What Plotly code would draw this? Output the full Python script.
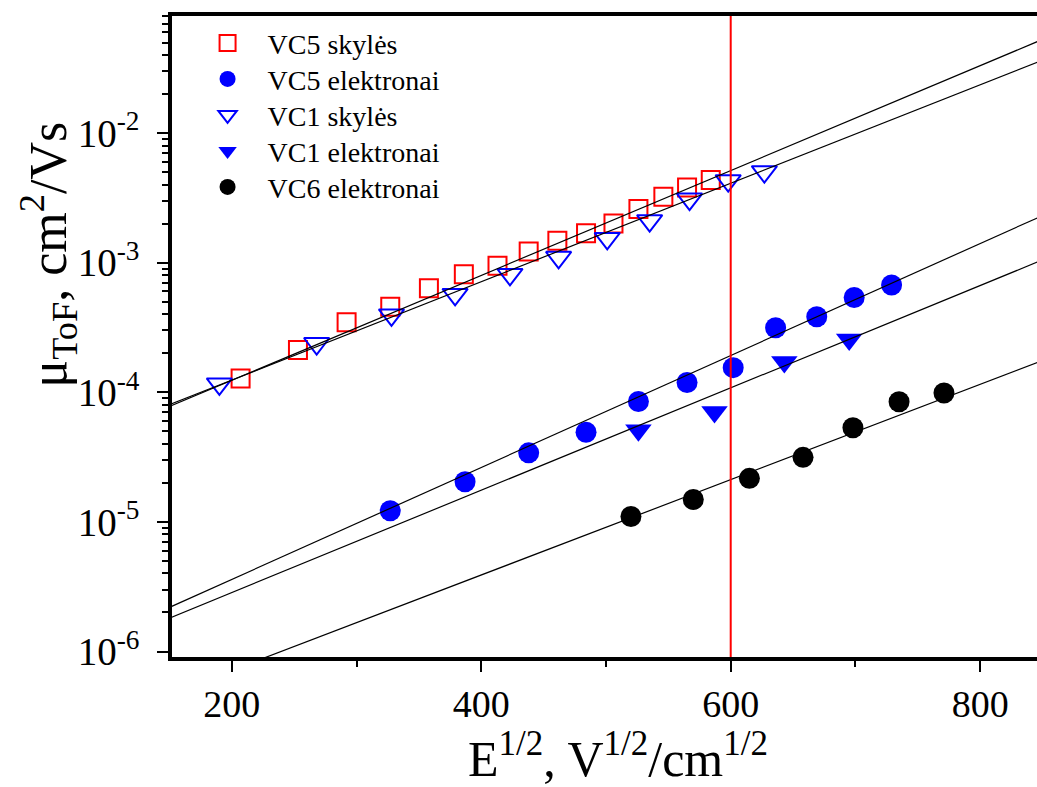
import plotly.graph_objects as go

# ---- data ----
vc5_h_x = [207, 253, 292, 327, 358, 386, 413, 438, 461, 484, 506, 526, 546, 565, 584]
vc5_h_y = [1.28e-4, 2.12e-4, 3.47e-4, 4.57e-4, 6.34e-4, 8.13e-4, 9.48e-4, 1.22e-3,
           1.48e-3, 1.69e-3, 2.01e-3, 2.60e-3, 3.23e-3, 3.80e-3, 4.35e-3]

vc5_e_x = [327, 387, 438, 484, 526, 565, 602, 636, 669, 699, 729]
vc5_e_y = [1.22e-5, 2.04e-5, 3.41e-5, 4.92e-5, 8.49e-5, 1.19e-4, 1.55e-4,
           3.15e-4, 3.83e-4, 5.39e-4, 6.73e-4]

vc1_h_x = [190, 268, 328, 379, 423, 462, 501, 535, 567, 598, 627]
vc1_h_y = [1.16e-4, 2.38e-4, 3.95e-4, 5.69e-4, 8.12e-4, 1.10e-3, 1.54e-3,
           2.11e-3, 3.10e-3, 4.29e-3, 5.04e-3]

vc1_e_x = [526, 587, 643, 695]
vc1_e_y = [5.09e-5, 7.05e-5, 1.71e-4, 2.55e-4]

vc6_e_x = [520, 570, 615, 658, 698, 735, 771]
vc6_e_y = [1.10e-5, 1.49e-5, 2.17e-5, 3.15e-5, 5.33e-5, 8.46e-5, 9.88e-5]

# fitted straight lines (semilog), end values at x = 150 and x = 850
fit_x = [150, 850]
fit_vc5_h = [7.77e-5, 5.28e-2]
fit_vc1_h = [8.03e-5, 3.65e-2]
fit_vc5_e = [2.19e-6, 2.31e-3]
fit_vc1_e = [1.81e-6, 1.05e-3]
fit_vc6_e = [4.69e-7, 1.76e-4]

marker_x = 600  # vertical red line

y_tickvals = [1e-6, 1e-5, 1e-4, 1e-3, 1e-2]
y_ticktext = ["10<sup>-6</sup>", "10<sup>-5</sup>", "10<sup>-4</sup>",
              "10<sup>-3</sup>", "10<sup>-2</sup>"]
y_minor_tickvals = [m * 10.0 ** e for e in range(-7, -1) for m in range(2, 10)]
x_tickvals = [200, 400, 600, 800]
x_minor_tickvals = [300, 500, 700]

x_title = "E<sup>1/2</sup>, V<sup>1/2</sup>/cm<sup>1/2</sup>"
y_title = "μ<sub>ToF</sub>, cm<sup>2</sup>/Vs"

FONT = "Liberation Serif"
RED = "#FF0000"
BLUE = "#0000FF"

fig = go.Figure()

series = [
    (vc5_h_x, vc5_h_y, "VC5 skylės",
     dict(symbol="square-open", size=18, color=RED, line=dict(width=2, color=RED)), "legend"),
    (vc5_e_x, vc5_e_y, "VC5 elektronai",
     dict(symbol="circle", size=21, color=BLUE, line=dict(width=0)), "legend2"),
    (vc1_h_x, vc1_h_y, "VC1 skylės",
     dict(symbol="triangle-down-open", size=22, color=BLUE, line=dict(width=2, color=BLUE)), "legend3"),
    (vc1_e_x, vc1_e_y, "VC1 elektronai",
     dict(symbol="triangle-down", size=23, color=BLUE, line=dict(width=0)), "legend4"),
    (vc6_e_x, vc6_e_y, "VC6 elektronai",
     dict(symbol="circle", size=21, color="black", line=dict(width=0)), "legend5"),
]
for sx, sy, name, mk, lg in series:
    fig.add_trace(go.Scatter(x=sx, y=sy, mode="markers", name=name, marker=mk, legend=lg))

for fy in [fit_vc5_h, fit_vc1_h, fit_vc5_e, fit_vc1_e, fit_vc6_e]:
    fig.add_trace(go.Scatter(x=fit_x, y=fy, mode="lines", showlegend=False,
                             hoverinfo="skip",
                             line=dict(color="black", width=1.2)))

fig.add_shape(type="line", xref="x", yref="paper", x0=marker_x, x1=marker_x,
              y0=0, y1=1, line=dict(color=RED, width=2), layer="above")

legend_style = dict(x=0.018, xanchor="left", yanchor="top",
                    font=dict(family=FONT, size=28, color="black"),
                    bgcolor="rgba(0,0,0,0)", itemwidth=70)
legend_tops = [0.9966, 0.9404, 0.8842, 0.8281, 0.7719]

fig.update_layout(
    width=1037, height=787,
    margin=dict(l=172, r=0, t=16, b=130),
    paper_bgcolor="white", plot_bgcolor="white",
    font=dict(family=FONT, color="black"),
    showlegend=True,
    legend=dict(y=legend_tops[0], **legend_style),
    legend2=dict(y=legend_tops[1], **legend_style),
    legend3=dict(y=legend_tops[2], **legend_style),
    legend4=dict(y=legend_tops[3], **legend_style),
    legend5=dict(y=legend_tops[4], **legend_style),
    xaxis=dict(range=[152.0, 845.6], showgrid=False, zeroline=False,
               showline=True, linewidth=3.5, linecolor="black", mirror=True,
               tickmode="array", tickvals=x_tickvals,
               ticks="outside", ticklen=11, tickwidth=2, tickcolor="black",
               tickfont=dict(family=FONT, size=38, color="black"),
               minor=dict(tickmode="array", tickvals=x_minor_tickvals,
                          ticks="outside", ticklen=6,
                          tickwidth=2, tickcolor="black", showgrid=False)),
    yaxis=dict(type="log", range=[-6.0424, -1.0965], showgrid=False, zeroline=False,
               showline=True, linewidth=3.5, linecolor="black", mirror=False,
               tickmode="array", tickvals=y_tickvals, ticktext=y_ticktext,
               ticks="outside", ticklen=11, tickwidth=2, tickcolor="black",
               ticklabelstandoff=10,
               tickfont=dict(family=FONT, size=39, color="black"),
               minor=dict(tickmode="array", tickvals=y_minor_tickvals,
                          ticks="outside", ticklen=6,
                          tickwidth=1.5, tickcolor="black", showgrid=False)),
    annotations=[
        dict(text=x_title, xref="paper", yref="paper", x=0.5156, y=-0.153,
             xanchor="center", yanchor="middle", showarrow=False,
             font=dict(family=FONT, size=50, color="black")),
        dict(text=y_title, xref="paper", yref="paper", x=-0.143, y=0.628,
             xanchor="center", yanchor="middle", showarrow=False, textangle=-90,
             font=dict(family=FONT, size=52, color="black")),
    ],
)

fig.write_html("out.html")
